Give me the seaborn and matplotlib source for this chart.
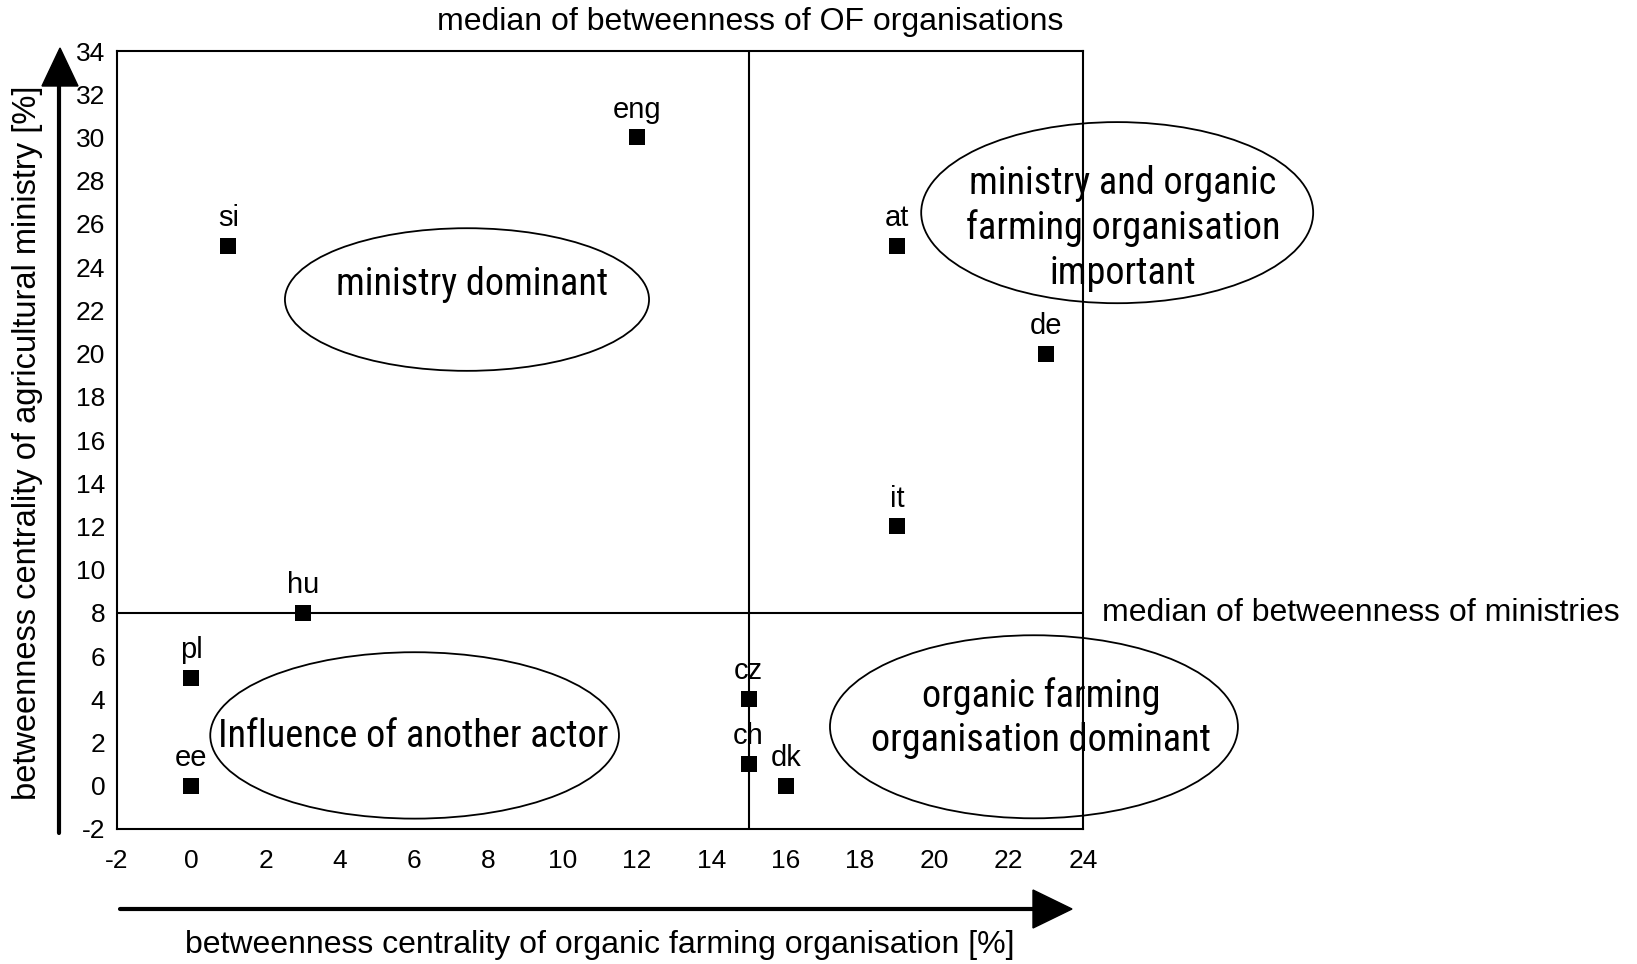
import matplotlib
matplotlib.use("Agg")
import matplotlib.pyplot as plt
import seaborn as sns
import pandas as pd
from matplotlib.patches import Ellipse, Polygon
from matplotlib.lines import Line2D

# ---- data ----
countries = ["si", "eng", "at", "de", "it", "hu", "pl", "ee", "cz", "ch", "dk"]
of_betweenness = [1, 12, 19, 23, 19, 3, 0, 0, 15, 15, 16]
ministry_betweenness = [25, 30, 25, 20, 12, 8, 5, 0, 4, 1, 0]
median_of = 15
median_ministry = 8
x_ticks = list(range(-2, 25, 2))
y_ticks = list(range(-2, 35, 2))

zone_labels = ["ministry dominant",
               "ministry and organic\nfarming organisation\nimportant",
               "Influence of another actor",
               "organic farming\norganisation dominant"]
zone_centers = [(7.42, 22.5), (24.92, 26.52), (6.01, 2.33), (22.68, 2.73)]
zone_sizes = [(9.8, 6.6), (10.55, 8.38), (11.0, 7.7), (10.98, 8.47)]
zone_text_pos = [(7.56, 23.2), (25.08, 25.8), (5.97, 2.29), (22.87, 3.12)]

df = pd.DataFrame({"country": countries, "x": of_betweenness, "y": ministry_betweenness})

sns.set_style("white")
plt.rcParams["font.family"] = ["Liberation Sans", "DejaVu Sans"]
plt.rcParams["text.color"] = "black"

W, H = 1637, 964
fig = plt.figure(figsize=(W / 100, H / 100), dpi=100)
ax = fig.add_axes([117 / W, 1 - 829 / H, (1083 - 117) / W, (829 - 51) / H])

ax.axhline(median_ministry, color="black", lw=1.5, zorder=1)
ax.axvline(median_of, color="black", lw=1.5, zorder=1)

sns.scatterplot(data=df, x="x", y="y", marker="s", s=140, color="black",
                edgecolor="black", linewidth=0, ax=ax, zorder=3, clip_on=False)
for c, xv, yv in zip(countries, of_betweenness, ministry_betweenness):
    ax.annotate(c, (xv, yv), xytext=(0, 10), textcoords="offset points",
                ha="center", va="bottom", fontsize=21, color="black")

ax.set_xlim(-2, 24)
ax.set_ylim(-2, 34)
ax.set_xticks(x_ticks)
ax.set_yticks(y_ticks)
ax.set_xticklabels([str(t) for t in x_ticks])
ax.set_yticklabels([str(t) for t in y_ticks])
ax.tick_params(axis="both", direction="out", length=4.5, width=3.5, labelsize=19,
               color="black", labelcolor="black")
ax.tick_params(axis="x", pad=10)
ax.tick_params(axis="y", pad=4)
ax.set_xlabel("")
ax.set_ylabel("")
for sp in ax.spines.values():
    sp.set_visible(True)
    sp.set_color("black")
    sp.set_linewidth(1.5)

for lab, (cx, cy), (w, h), (tx, ty) in zip(zone_labels, zone_centers, zone_sizes, zone_text_pos):
    e = Ellipse((cx, cy), w, h, fill=False, edgecolor="black", lw=1.3, clip_on=False, zorder=2)
    ax.add_patch(e)
    ax.text(tx, ty, lab, ha="center", va="center", fontsize=27.5, linespacing=1.25,
            family=["Roboto Condensed", "DejaVu Sans"], weight="normal", color="black",
            clip_on=False, zorder=4)

ax.annotate("median of betweenness of ministries", (24, median_ministry), xytext=(14, 0),
            textcoords="offset points", ha="left", va="center", fontsize=23,
            annotation_clip=False, color="black")
fig.text(750 / W, 1 - 22 / H, "median of betweenness of OF organisations",
         ha="center", va="center", fontsize=23, color="black")

# axis titles
fig.text(600 / W, 1 - 945 / H,
         "betweenness centrality of organic farming organisation [%]",
         ha="center", va="center", fontsize=23, color="black")
fig.text(28 / W, 1 - 443 / H,
         "betweenness centrality of agricultural ministry [%]",
         ha="center", va="center", rotation=90, fontsize=23.5, color="black")

# arrows (figure pixel coordinates -> fraction)
def fx(px):
    return px / W

def fy(py):
    return 1 - py / H

fig.add_artist(Line2D([fx(59), fx(59)], [fy(833), fy(85)], color="black", lw=3))
fig.add_artist(Polygon([[fx(42), fy(86)], [fx(78), fy(86)], [fx(60), fy(48)]],
                       closed=True, color="black", transform=fig.transFigure))
fig.add_artist(Line2D([fx(120), fx(1034)], [fy(909), fy(909)], color="black", lw=3))
fig.add_artist(Polygon([[fx(1033), fy(890)], [fx(1033), fy(928)], [fx(1072), fy(909)]],
                       closed=True, color="black", transform=fig.transFigure))

fig.savefig("out.png", dpi=100, facecolor="white")
